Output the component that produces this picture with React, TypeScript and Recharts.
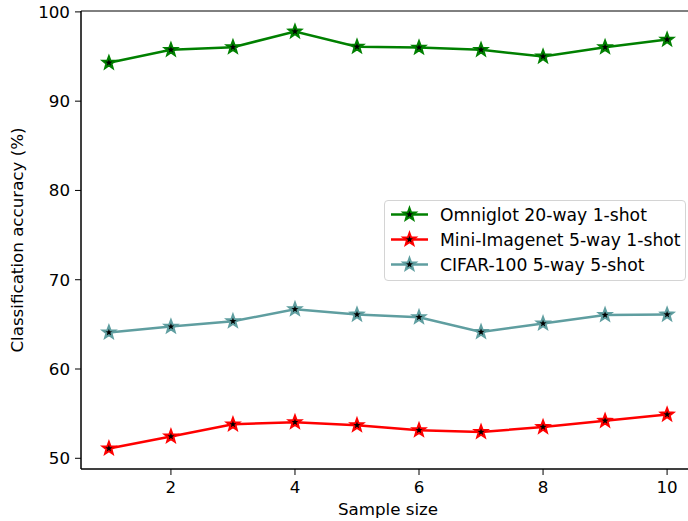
import React from "react";
import {
  LineChart,
  Line,
  XAxis,
  YAxis,
  ReferenceArea,
  Label,
} from "recharts";

const sampleSizes = [1, 2, 3, 4, 5, 6, 7, 8, 9, 10];
const omniglot = [94.3, 95.75, 96.05, 97.8, 96.1, 96.0, 95.75, 95.0, 96.05, 96.9];
const miniImagenet = [51.1, 52.45, 53.8, 54.05, 53.7, 53.15, 52.95, 53.5, 54.2, 54.9];
const cifar100 = [64.1, 64.75, 65.35, 66.7, 66.1, 65.8, 64.15, 65.1, 66.05, 66.1];

const xTicks = [2, 4, 6, 8, 10];
const yTicks = [50, 60, 70, 80, 90, 100];

const seriesList = [
  { key: "omniglot", name: "Omniglot 20-way 1-shot", color: "#008000", values: omniglot },
  { key: "mini", name: "Mini-Imagenet 5-way 1-shot", color: "#ff0000", values: miniImagenet },
  { key: "cifar", name: "CIFAR-100 5-way 5-shot", color: "#5f9ea0", values: cifar100 },
];

const data = sampleSizes.map((n, i) => ({
  n,
  omniglot: omniglot[i],
  mini: miniImagenet[i],
  cifar: cifar100[i],
}));

const FONT = "'DejaVu Sans', sans-serif";
const FS = 16.7;

function starPath(cx: number, cy: number, outer: number, inner: number) {
  let d = "";
  for (let k = 0; k < 10; k++) {
    const r = k % 2 === 0 ? outer : inner;
    const a = -Math.PI / 2 + (k * Math.PI) / 5;
    d += (k === 0 ? "M" : "L") + (cx + r * Math.cos(a)).toFixed(2) + "," + (cy + r * Math.sin(a)).toFixed(2);
  }
  return d + "Z";
}

function StarDot(color: string) {
  return (props: any) => {
    const { cx, cy, index } = props;
    if (cx == null || cy == null) return null;
    return (
      <path
        key={`s-${index}`}
        d={starPath(cx, cy, 6.5, 2.7)}
        fill="#000"
        stroke={color}
        strokeWidth={2}
      />
    );
  };
}

function LegendBox() {
  return (
    <div
      style={{
        position: "absolute",
        left: 384,
        top: 200,
        width: 302,
        height: 81,
        boxSizing: "border-box",
        border: "1px solid #d4d4d4",
        borderRadius: 4,
        background: "rgba(255,255,255,0.85)",
        fontFamily: FONT,
        fontSize: 17.2,
        color: "#000",
        paddingTop: 1,
      }}
    >
      {seriesList.map((s) => (
        <div key={s.key} style={{ height: 25, display: "flex", alignItems: "center" }}>
          <svg width={48} height={25} style={{ marginLeft: 5, flex: "none" }}>
            <line x1={1} x2={38} y1={12.5} y2={12.5} stroke={s.color} strokeWidth={2.5} />
            <path d={starPath(19.5, 12.5, 6.5, 2.7)} fill="#000" stroke={s.color} strokeWidth={2} />
          </svg>
          <span style={{ whiteSpace: "nowrap", marginLeft: 2 }}>{s.name}</span>
        </div>
      ))}
    </div>
  );
}

export default function App() {
  return (
    <div
      style={{
        position: "absolute",
        left: 0,
        top: 0,
        width: 688,
        height: 521,
        overflow: "hidden",
        background: "#fff",
      }}
    >
      <LineChart
        width={700}
        height={521}
        data={data}
        margin={{ top: 11, right: 5, left: 0, bottom: 0 }}
        style={{ fontFamily: FONT }}
      >
        <XAxis
          dataKey="n"
          type="number"
          domain={[0.55, 10.45]}
          ticks={xTicks}
          allowDataOverflow
          height={52}
          tickSize={6}
          tickMargin={6}
          stroke="#000"
          tick={{ fill: "#000", fontSize: FS }}
        >
          <Label value="Sample size" position="insideBottom" offset={6} fill="#000" fontSize={FS} />
        </XAxis>
        <YAxis
          type="number"
          domain={[48.8, 100.1]}
          ticks={yTicks}
          allowDataOverflow
          width={81}
          tickSize={6}
          tickMargin={5}
          stroke="#000"
          tick={{ fill: "#000", fontSize: FS }}
        >
          <Label
            value="Classification accuracy (%)"
            angle={-90}
            position="insideLeft"
            offset={17}
            style={{ textAnchor: "middle" }}
            fill="#000"
            fontSize={FS}
          />
        </YAxis>
        <ReferenceArea
          x1={0.55}
          x2={10.45}
          y1={48.8}
          y2={100.1}
          fill="none"
          stroke="#000"
          strokeWidth={1}
          fillOpacity={0}
        />
        {seriesList.map((s) => (
          <Line
            key={s.key}
            dataKey={s.key}
            name={s.name}
            stroke={s.color}
            strokeWidth={2.5}
            dot={StarDot(s.color)}
            activeDot={false}
            isAnimationActive={false}
          />
        ))}
      </LineChart>
      <LegendBox />
    </div>
  );
}
